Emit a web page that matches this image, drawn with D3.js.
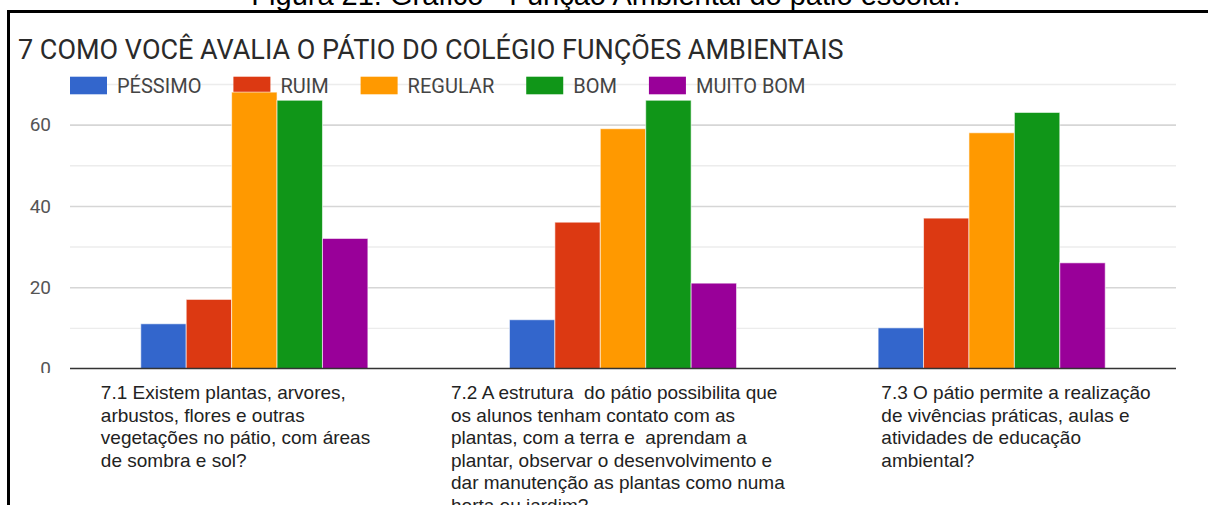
<!DOCTYPE html>
<html>
<head>
<meta charset="utf-8">
<script src="https://cdn.jsdelivr.net/npm/d3@7"></script>
<style>
  body { margin: 0; background: #fff; }
  svg { display: block; }
  text { white-space: pre; }
</style>
</head>
<body>
<svg></svg>
<script>
// ---- data ----
var captionText = "Figura 21: Gráfico - Função Ambiental do pátio escolar.";
var titleText = "7 COMO VOCÊ AVALIA O PÁTIO DO COLÉGIO FUNÇÕES AMBIENTAIS";

var categories = ["7.1", "7.2", "7.3"];
var categoryLines = [
  ["7.1 Existem plantas, arvores,", "arbustos, flores e outras", "vegetações no pátio, com áreas", "de sombra e sol?"],
  ["7.2 A estrutura  do pátio possibilita que", "os alunos tenham contato com as", "plantas, com a terra e  aprendam a", "plantar, observar o desenvolvimento e", "dar manutenção as plantas como numa", "horta ou jardim?"],
  ["7.3 O pátio permite a realização", "de vivências práticas, aulas e", "atividades de educação", "ambiental?"]
];

var seriesNames = ["PÉSSIMO", "RUIM", "REGULAR", "BOM", "MUITO BOM"];
var pessimo  = [11, 12, 10];
var ruim     = [17, 36, 37];
var regular  = [68, 59, 58];
var bom      = [66, 66, 63];
var muitoBom = [32, 21, 26];

var yTicks = [0, 20, 40, 60];
var yGrid = [10, 20, 30, 40, 50, 60, 70];

// ---- layout / style ----
var width = 1208, height = 505;
var plot = { left: 70, right: 1176, top: 84, bottom: 368.5 };
var colors = ["#3366cc", "#dc3912", "#ff9900", "#109618", "#990099"];
var labelNudge = [-153.5, -172, -110.3];   // left edge of each wrapped label, from band centre

var svg = d3.select("svg")
            .attr("width", width)
            .attr("height", height);

var seriesValues = [pessimo, ruim, regular, bom, muitoBom];

var x0 = d3.scaleBand()
           .domain(categories)
           .range([plot.left, plot.right])
           .paddingInner(0.384)
           .paddingOuter(0.192);

var x1 = d3.scaleBand()
           .domain(seriesNames)
           .range([0, x0.bandwidth()]);

var y = d3.scaleLinear()
          .domain([0, 70])
          .range([plot.bottom, plot.top]);

var color = d3.scaleOrdinal().domain(seriesNames).range(colors);

// caption from the page above the chart (mostly cut off)
svg.append("text")
   .text(captionText)
   .attr("x", 606)
   .attr("y", 5)
   .attr("text-anchor", "middle")
   .attr("font-family", "'Liberation Sans', Arial, sans-serif")
   .attr("font-size", 29)
   .attr("fill", "#000");

// frame
svg.append("path")
   .attr("d", "M8.5," + (height + 5) + "V11.5H" + (width + 5))
   .attr("fill", "none")
   .attr("stroke", "#000")
   .attr("stroke-width", 3);

// title
svg.append("text")
   .text(titleText)
   .attr("x", 18)
   .attr("y", 59.3)
   .attr("font-family", "Roboto, sans-serif")
   .attr("font-size", 27)
   .attr("fill", "#2a2a2a");

// gridlines
svg.append("g")
   .attr("class", "grid")
   .attr("transform", "translate(" + plot.left + ",0)")
   .call(d3.axisLeft(y).tickValues(yGrid).tickSize(-(plot.right - plot.left)).tickFormat(""))
   .call(g => g.select(".domain").remove())
   .call(g => g.selectAll("line")
      .attr("stroke", d => d % 20 === 0 ? "#d6d6d6" : "#ececec")
      .attr("stroke-width", d => d % 20 === 0 ? 1.6 : 1.4));

// y tick labels (the "0" is clipped at the bottom in the picture)
svg.append("clipPath")
   .attr("id", "tickclip")
   .append("rect")
   .attr("x", -plot.left).attr("y", 0)
   .attr("width", plot.left).attr("height", 373);

svg.append("g")
   .attr("class", "y-axis")
   .attr("transform", "translate(" + plot.left + ",0)")
   .attr("clip-path", "url(#tickclip)")
   .call(d3.axisLeft(y).tickValues(yTicks).tickSize(0).tickPadding(19))
   .call(g => g.select(".domain").remove())
   .call(g => g.selectAll("text")
      .attr("font-family", "Roboto, sans-serif")
      .attr("font-size", 19)
      .attr("fill", "#555"));

// legend
var legend = svg.append("g").attr("class", "legend");
var lx = 70;
seriesNames.forEach(function(name) {
  var item = legend.append("g").attr("transform", "translate(" + lx + ",0)");
  item.append("rect")
      .attr("x", 0).attr("y", 76.7)
      .attr("width", 37).attr("height", 17.6)
      .attr("fill", color(name));
  var t = item.append("text")
      .text(name)
      .attr("x", 47)
      .attr("y", 92.7)
      .attr("font-family", "Roboto, sans-serif")
      .attr("font-size", 20)
      .attr("fill", "#444");
  lx += 47 + t.node().getComputedTextLength() + 32;
});

// bars
var groups = svg.append("g")
   .selectAll("g")
   .data(categories)
   .enter()
   .append("g")
   .attr("transform", d => "translate(" + x0(d) + ",0)");

groups.selectAll("rect")
   .data((c, i) => seriesNames.map((s, j) => ({ series: s, value: seriesValues[j][i] })))
   .enter()
   .append("rect")
   .attr("x", d => x1(d.series))
   .attr("y", d => y(d.value))
   .attr("width", x1.bandwidth())
   .attr("height", d => y(0) - y(d.value))
   .attr("fill", d => color(d.series))
   .attr("stroke", "#fff")
   .attr("stroke-opacity", 0.6)
   .attr("stroke-width", 1);

// baseline
svg.append("line")
   .attr("x1", plot.left).attr("x2", plot.right)
   .attr("y1", y(0)).attr("y2", y(0))
   .attr("stroke", "#333")
   .attr("stroke-width", 1.6);

// wrapped category labels
categories.forEach(function(c, i) {
  var left = x0(c) + x0.bandwidth() / 2 + labelNudge[i];
  categoryLines[i].forEach(function(line, j) {
    svg.append("text")
       .text(line)
       .attr("x", left)
       .attr("y", 399.3 + j * 22.5)
       .attr("font-family", "'Liberation Sans', Arial, sans-serif")
       .attr("font-size", 19)
       .attr("fill", "#222");
  });
});
</script>
</body>
</html>
